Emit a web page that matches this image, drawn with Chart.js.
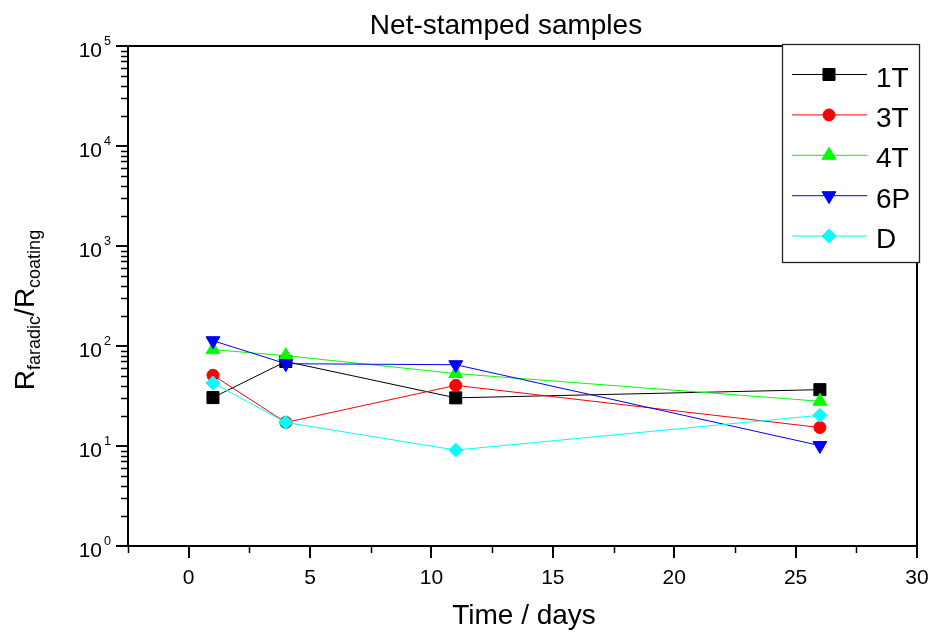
<!DOCTYPE html>
<html>
<head>
<meta charset="utf-8">
<script src="https://cdn.jsdelivr.net/npm/chart.js@4.4.0/dist/chart.umd.min.js"></script>
<style>
  html, body { margin: 0; padding: 0; background: #fff; }
  canvas { display: block; }
</style>
</head>
<body>
<canvas id="chart" width="932" height="633"></canvas>
<script>
// Time in days and the R_faradic / R_coating ratio per sample
const days = [1, 4, 11, 26];
const seriesNames = ['1T', '3T', '4T', '6P', 'D'];
const ratio1T = [30.5, 70, 30.3, 36.6];
const ratio3T = [51, 17.2, 40.4, 15.3];
const ratio4T = [92, 80, 53, 28];
const ratio6P = [113, 66.5, 65, 10.1];
const ratioD = [42.7, 17.2, 9.1, 20.3];
const xTickValues = [0, 5, 10, 15, 20, 25, 30];
const yDecades = [0, 1, 2, 3, 4, 5];

const seriesValues = [ratio1T, ratio3T, ratio4T, ratio6P, ratioD];
const styles = [
  { color: '#000000', pointStyle: 'rect', radius: 8.5, rotation: 0 },
  { color: '#ff0000', pointStyle: 'circle', radius: 6, rotation: 0 },
  { color: '#00ff00', pointStyle: 'triangle', radius: 8, rotation: 0 },
  { color: '#0000ff', pointStyle: 'triangle', radius: 8, rotation: 180 },
  { color: '#00ffff', pointStyle: 'rectRot', radius: 7, rotation: 0 },
];

const FONT = '"Liberation Sans", Arial, sans-serif';

function drawText(ctx, text, x, y, size, sx, align) {
  ctx.save();
  ctx.translate(x, y);
  ctx.scale(sx, 1);
  ctx.font = size + 'px ' + FONT;
  ctx.textAlign = align;
  ctx.textBaseline = 'alphabetic';
  ctx.fillText(text, 0, 0);
  ctx.restore();
}

function marker(ctx, st, x, y) {
  ctx.save();
  ctx.fillStyle = st.color;
  ctx.strokeStyle = st.color;
  ctx.lineWidth = 1;
  Chart.helpers.drawPoint(ctx, {
    pointStyle: st.pointStyle, radius: st.radius, rotation: st.rotation, borderWidth: 1,
  }, x, y);
  ctx.restore();
}

// frame, ticks, labels and legend drawn on top of the datasets
const axesPlugin = {
  id: 'originAxes',
  afterDraw(chart) {
    const ctx = chart.ctx;
    const a = chart.chartArea;
    const xs = chart.scales.x;
    const ys = chart.scales.y;
    ctx.save();
    ctx.strokeStyle = '#000';
    ctx.fillStyle = '#000';

    // minor ticks
    ctx.lineWidth = 1.5;
    ctx.beginPath();
    for (let v = -2.5; v <= 30; v += 5) {
      const px = Math.round(xs.getPixelForValue(v)) + 0.5;
      ctx.moveTo(px, a.bottom);
      ctx.lineTo(px, a.bottom + 7);
    }
    for (let d = 0; d < 5; d += 1) {
      for (let k = 2; k <= 9; k += 1) {
        const py = Math.round(ys.getPixelForValue(k * Math.pow(10, d))) + 0.5;
        ctx.moveTo(a.left, py);
        ctx.lineTo(a.left - 7, py);
      }
    }
    ctx.stroke();

    // major ticks
    ctx.lineWidth = 2;
    ctx.beginPath();
    xTickValues.forEach((v) => {
      const px = Math.round(xs.getPixelForValue(v));
      ctx.moveTo(px, a.bottom);
      ctx.lineTo(px, a.bottom + 12);
    });
    yDecades.forEach((d) => {
      const py = Math.round(ys.getPixelForValue(Math.pow(10, d)));
      ctx.moveTo(a.left, py);
      ctx.lineTo(a.left - 12, py);
    });
    ctx.stroke();

    // frame
    ctx.lineWidth = 2;
    ctx.strokeRect(a.left, a.top, a.right - a.left, a.bottom - a.top);

    // tick labels
    xTickValues.forEach((v) => {
      drawText(ctx, String(v), xs.getPixelForValue(v), a.bottom + 38, 21, 1, 'center');
    });
    yDecades.forEach((d) => {
      const py = ys.getPixelForValue(Math.pow(10, d));
      drawText(ctx, '10', 102, py + 11, 20, 1.05, 'right');
      drawText(ctx, String(d), 104, py - 1, 12, 1.05, 'left');
    });

    // titles
    drawText(ctx, 'Net-stamped samples', 506, 34, 28, 1, 'center');
    drawText(ctx, 'Time / days', 524, 624, 28, 1, 'center');

    // y axis title with subscripts, rotated
    const runs = [['R', 28, 0], ['faradic', 18, 6], ['/R', 28, 0], ['coating', 18, 6]];
    ctx.save();
    ctx.translate(34, 310);
    ctx.rotate(-Math.PI / 2);
    let total = 0;
    runs.forEach((r) => { ctx.font = r[1] + 'px ' + FONT; total += ctx.measureText(r[0]).width; });
    let cx = -total / 2;
    ctx.textAlign = 'left';
    runs.forEach((r) => {
      ctx.font = r[1] + 'px ' + FONT;
      ctx.fillText(r[0], cx, r[2]);
      cx += ctx.measureText(r[0]).width;
    });
    ctx.restore();

    // legend
    ctx.fillStyle = '#fff';
    ctx.fillRect(782.5, 44.5, 137, 218);
    ctx.strokeStyle = '#222';
    ctx.lineWidth = 1.3;
    ctx.strokeRect(782.5, 44.5, 137, 218);
    seriesNames.forEach((name, i) => {
      const st = styles[i];
      const y = 74.5 + i * 40.4;
      ctx.strokeStyle = st.color;
      ctx.lineWidth = 1;
      ctx.beginPath();
      ctx.moveTo(792, y);
      ctx.lineTo(867, y);
      ctx.stroke();
      marker(ctx, st, 829, y);
      ctx.fillStyle = '#000';
      drawText(ctx, name, 876, y + 12, 28, 1, 'left');
    });
    ctx.restore();
  },
};

const datasets = seriesNames.map((name, i) => ({
  label: name,
  data: days.map((d, j) => ({ x: d, y: seriesValues[i][j] })),
  borderColor: styles[i].color,
  backgroundColor: styles[i].color,
  pointBorderColor: styles[i].color,
  pointBackgroundColor: styles[i].color,
  borderWidth: 1,
  pointBorderWidth: 1,
  pointStyle: styles[i].pointStyle,
  pointRadius: styles[i].radius,
  pointRotation: styles[i].rotation,
  tension: 0,
  fill: false,
  order: seriesNames.length - i,
}));

new Chart(document.getElementById('chart'), {
  type: 'line',
  data: { datasets },
  options: {
    responsive: false,
    animation: false,
    events: [],
    layout: { padding: { left: 128, right: 15, top: 46, bottom: 87 } },
    plugins: {
      legend: { display: false },
      title: { display: false },
      tooltip: { enabled: false },
    },
    scales: {
      x: { type: 'linear', min: -2.5, max: 30, display: false },
      y: { type: 'logarithmic', min: 1, max: 100000, display: false },
    },
  },
  plugins: [axesPlugin],
});
</script>
</body>
</html>
